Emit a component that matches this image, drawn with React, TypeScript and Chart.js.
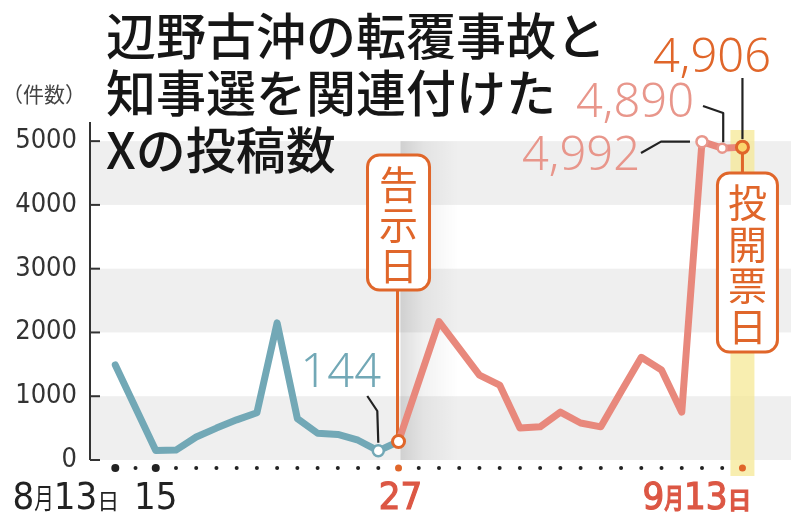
import React, { useEffect, useRef } from 'react';
import { Chart, registerables } from 'chart.js';
Chart.register(...registerables);

// ---- data ----
const dayLabels = [
  '8/13', '8/14', '8/15', '8/16', '8/17', '8/18', '8/19', '8/20', '8/21', '8/22', '8/23', '8/24', '8/25', '8/26',
  '8/27', '8/28', '8/29', '8/30', '8/31', '9/1', '9/2', '9/3', '9/4', '9/5', '9/6', '9/7', '9/8', '9/9', '9/10',
  '9/11', '9/12', '9/13',
];
// before the official announcement (8/13 - 8/27)
const blueValues = [1490, 820, 150, 155, 360, 500, 630, 740, 2150, 650, 420, 400, 310, 144, 290];
// from the announcement day to election day (8/27 - 9/13)
const redValues = [290, 1230, 2170, 1750, 1330, 1175, 500, 520, 750, 580, 520, 1070, 1610, 1410, 750, 4992, 4890, 4906];
const yTicks = [0, 1000, 2000, 3000, 4000, 5000];
const titleLines = ['辺野古沖の転覆事故と', '知事選を関連付けた', 'Xの投稿数'];
const unitLabel = '（件数）';
const announceDay = '8/27';
const electionDay = '9/13';

const BLUE = '#72a8b6';
const RED = '#e8887c';
const ORANGE = '#e0662a';
const PINK = '#e8968b';
const LABEL_RED = '#dc5744';
const NARROW = '"Liberation Sans Narrow", "DejaVu Sans Condensed", sans-serif';
const CJK = '"Noto Sans CJK JP", sans-serif';
const NUM = '"Noto Sans", sans-serif';

const blueData = blueValues.map((v, i) => ({ x: i, y: v }));
const redStart = dayLabels.indexOf(announceDay);
const redData = redValues.map((v, i) => ({ x: redStart + i, y: v }));
const electionIdx = dayLabels.indexOf(electionDay);

type Part = { t: string; font: string; sx?: number };
function drawParts(ctx: CanvasRenderingContext2D, parts: Part[], x: number, y: number, align: 'left' | 'right' | 'center', color: string, stroke = 0) {
  ctx.save();
  ctx.fillStyle = color;
  ctx.strokeStyle = color;
  ctx.lineWidth = stroke;
  ctx.textBaseline = 'alphabetic';
  ctx.textAlign = 'left';
  const widths = parts.map((p) => {
    ctx.font = p.font;
    return ctx.measureText(p.t).width * (p.sx ?? 1);
  });
  const total = widths.reduce((a, b) => a + b, 0);
  let cx = align === 'left' ? x : align === 'right' ? x - total : x - total / 2;
  parts.forEach((p, i) => {
    ctx.font = p.font;
    ctx.save();
    ctx.translate(cx, y);
    ctx.scale(p.sx ?? 1, 1);
    ctx.fillText(p.t, 0, 0);
    if (stroke > 0) ctx.strokeText(p.t, 0, 0);
    ctx.restore();
    cx += widths[i];
  });
  ctx.restore();
}

function roundRect(ctx: CanvasRenderingContext2D, x: number, y: number, w: number, h: number, r: number) {
  ctx.beginPath();
  ctx.moveTo(x + r, y);
  ctx.lineTo(x + w - r, y);
  ctx.arcTo(x + w, y, x + w, y + r, r);
  ctx.lineTo(x + w, y + h - r);
  ctx.arcTo(x + w, y + h, x + w - r, y + h, r);
  ctx.lineTo(x + r, y + h);
  ctx.arcTo(x, y + h, x, y + h - r, r);
  ctx.lineTo(x, y + r);
  ctx.arcTo(x, y, x + r, y, r);
  ctx.closePath();
}

function drawVerticalLabel(ctx: CanvasRenderingContext2D, chars: string, cx: number, top: number, bottom: number, w: number) {
  ctx.save();
  roundRect(ctx, cx - w / 2, top, w, bottom - top, 12);
  ctx.fillStyle = '#ffffff';
  ctx.fill();
  ctx.strokeStyle = ORANGE;
  ctx.lineWidth = 3;
  ctx.stroke();
  ctx.fillStyle = ORANGE;
  ctx.font = `39px ${CJK}`;
  ctx.textAlign = 'center';
  ctx.textBaseline = 'middle';
  const n = chars.length;
  const pitch = (bottom - top - 14) / n;
  for (let i = 0; i < n; i++) {
    ctx.fillText(chars[i], cx, top + 7 + pitch * (i + 0.5) + 2);
  }
  ctx.restore();
}

const decorPlugin = {
  id: 'decor',
  beforeDatasetsDraw(chart: any) {
    const { ctx, chartArea } = chart;
    const xs = chart.scales.x;
    const ys = chart.scales.y;
    ctx.save();
    // alternating bands
    for (let i = 0; i < yTicks.length - 1; i++) {
      if (i % 2 === 0) {
        const t = ys.getPixelForValue(yTicks[i + 1]);
        const b = ys.getPixelForValue(yTicks[i]);
        ctx.fillStyle = '#efefef';
        ctx.fillRect(chartArea.left, t, chartArea.right - chartArea.left, b - t);
      }
    }
    // shadow after announcement day
    const ax = xs.getPixelForValue(redStart);
    const top5 = ys.getPixelForValue(5000);
    const bot0 = ys.getPixelForValue(0);
    const g = ctx.createLinearGradient(ax + 2, 0, ax + 60, 0);
    g.addColorStop(0, 'rgba(0,0,0,0.13)');
    g.addColorStop(0.4, 'rgba(0,0,0,0.05)');
    g.addColorStop(1, 'rgba(0,0,0,0)');
    ctx.fillStyle = g;
    ctx.fillRect(ax + 2, top5, 58, bot0 - top5);
    // election-day highlight
    const ex = xs.getPixelForValue(electionIdx);
    ctx.fillStyle = 'rgba(246,232,150,0.75)';
    ctx.fillRect(ex - 12, chartArea.top + 8, 24, chartArea.bottom - chartArea.top + 8);
    // y axis line and inner ticks
    ctx.strokeStyle = '#333';
    ctx.lineWidth = 2;
    ctx.beginPath();
    ctx.moveTo(ys.right, chartArea.top);
    ctx.lineTo(ys.right, bot0);
    ctx.stroke();
    yTicks.forEach((v) => {
      const py = ys.getPixelForValue(v);
      ctx.beginPath();
      ctx.moveTo(ys.right, py);
      ctx.lineTo(ys.right + 10, py);
      ctx.stroke();
    });
    // announcement stem
    const ay = ys.getPixelForValue(redValues[0]);
    ctx.strokeStyle = ORANGE;
    ctx.lineWidth = 3;
    ctx.beginPath();
    ctx.moveTo(ax - 1, 290);
    ctx.lineTo(ax - 1, ay);
    ctx.stroke();
    // election stem
    const eyv = ys.getPixelForValue(redValues[redValues.length - 1]);
    ctx.beginPath();
    ctx.moveTo(ex, eyv);
    ctx.lineTo(ex, 174);
    ctx.stroke();
    // x axis day dots
    for (let i = 0; i < dayLabels.length; i++) {
      const px = xs.getPixelForValue(i);
      let r = 2;
      let c = '#222';
      if (i === 0 || i === 2) r = 4;
      if (i === redStart || i === electionIdx) {
        r = 3.5;
        c = ORANGE;
      }
      ctx.fillStyle = c;
      ctx.beginPath();
      ctx.arc(px, 468, r, 0, Math.PI * 2);
      ctx.fill();
    }
    ctx.restore();
  },
  afterDatasetsDraw(chart: any) {
    const { ctx } = chart;
    const xs = chart.scales.x;
    const ys = chart.scales.y;
    ctx.save();
    const ax = xs.getPixelForValue(redStart);
    const ex = xs.getPixelForValue(electionIdx);
    drawVerticalLabel(ctx, '告示日', ax, 155, 290, 62);
    drawVerticalLabel(ctx, '投開票日', ex + 5, 173, 352, 60);

    // leader lines
    ctx.strokeStyle = '#222';
    ctx.lineWidth = 2.2;
    ctx.lineJoin = 'round';
    const p144x = xs.getPixelForValue(13);
    const p144y = ys.getPixelForValue(blueValues[13]);
    ctx.beginPath();
    ctx.moveTo(p144x - 11, 396);
    ctx.lineTo(p144x - 1, 411);
    ctx.lineTo(p144x, p144y - 8);
    ctx.stroke();

    const p992x = xs.getPixelForValue(redStart + 15);
    const p992y = ys.getPixelForValue(redValues[15]);
    ctx.beginPath();
    ctx.moveTo(641, 153);
    ctx.lineTo(661, p992y);
    ctx.lineTo(p992x - 12, p992y);
    ctx.stroke();

    const p890x = xs.getPixelForValue(redStart + 16);
    const p890y = ys.getPixelForValue(redValues[16]);
    ctx.beginPath();
    ctx.moveTo(703, 106);
    ctx.lineTo(p890x + 1, 113);
    ctx.lineTo(p890x + 1, p890y - 6);
    ctx.stroke();

    const p906y = ys.getPixelForValue(redValues[17]);
    ctx.beginPath();
    ctx.moveTo(ex, 78);
    ctx.lineTo(ex, p906y - 8);
    ctx.stroke();

    // value labels
    ctx.textBaseline = 'alphabetic';
    ctx.font = `300 47px ${NUM}`;
    ctx.textAlign = 'right';
    ctx.fillStyle = BLUE;
    ctx.fillText(String(blueValues[13]), 381, 387);
    ctx.fillStyle = PINK;
    ctx.fillText(redValues[16].toLocaleString('en-US'), 694, 117);
    ctx.fillText(redValues[15].toLocaleString('en-US'), 640, 170);
    ctx.fillStyle = ORANGE;
    ctx.fillText(redValues[17].toLocaleString('en-US'), 771, 72);
    ctx.restore();
  },
  afterDraw(chart: any) {
    const { ctx } = chart;
    const xs = chart.scales.x;
    ctx.save();
    // title
    ctx.fillStyle = '#161616';
    ctx.font = `500 50px ${CJK}`;
    ctx.textAlign = 'left';
    ctx.textBaseline = 'middle';
    titleLines.forEach((l, i) => ctx.fillText(l, 106, 36 + i * 57));
    // unit
    ctx.fillStyle = '#444';
    ctx.font = `21px ${CJK}`;
    ctx.fillText(unitLabel, 2, 94);
    // x labels
    const digitFont = `38px ${NARROW}`;
    drawParts(ctx, [
      { t: '8', font: digitFont },
      { t: '月', font: `28px ${CJK}`, sx: 0.7 },
      { t: '13', font: digitFont },
      { t: '日', font: `22px ${CJK}` },
    ], xs.getPixelForValue(0) + 4, 509, 'right', '#222');
    drawParts(ctx, [{ t: '15', font: digitFont }], xs.getPixelForValue(2), 509, 'center', '#222');
    drawParts(ctx, [{ t: '27', font: digitFont }], xs.getPixelForValue(redStart) + 2, 509, 'center', LABEL_RED, 1.2);
    drawParts(ctx, [
      { t: '9', font: digitFont },
      { t: '月', font: `500 28px ${CJK}`, sx: 0.7 },
      { t: '13', font: digitFont },
      { t: '日', font: `500 24px ${CJK}` },
    ], xs.getPixelForValue(electionIdx) + 9, 509, 'right', LABEL_RED, 1.2);
    ctx.restore();
  },
};

export default function App() {
  const ref = useRef<HTMLCanvasElement | null>(null);
  useEffect(() => {
    if (!ref.current) return;
    const chart = new Chart(ref.current, {
      type: 'line',
      data: {
        datasets: [
          {
            data: redData,
            borderColor: RED,
            borderWidth: 7,
            borderCapStyle: 'round',
            borderJoinStyle: 'round',
            tension: 0,
            pointRadius: (c: any) => (c.dataIndex === 0 ? 6 : c.dataIndex === 15 ? 5.5 : c.dataIndex === 16 ? 4.5 : c.dataIndex === 17 ? 6 : 0),
            pointBorderWidth: (c: any) => (c.dataIndex === 0 || c.dataIndex === 17 ? 3 : 2.5),
            pointBorderColor: (c: any) => (c.dataIndex === 0 || c.dataIndex === 17 ? ORANGE : PINK),
            pointBackgroundColor: (c: any) => (c.dataIndex === 17 ? '#fbd46c' : '#ffffff'),
          } as any,
          {
            data: blueData,
            borderColor: BLUE,
            borderWidth: 7,
            borderCapStyle: 'round',
            borderJoinStyle: 'round',
            tension: 0,
            pointRadius: (c: any) => (c.dataIndex === 13 ? 5.5 : 0),
            pointBorderWidth: 2.5,
            pointBorderColor: BLUE,
            pointBackgroundColor: '#ffffff',
          } as any,
        ],
      },
      options: {
        animation: false,
        responsive: false,
        maintainAspectRatio: false,
        layout: { padding: { top: 122, bottom: 54, left: 0, right: 3 } },
        plugins: { legend: { display: false }, tooltip: { enabled: false } },
        scales: {
          x: { type: 'linear', min: -1.25, max: 33.4, display: false },
          y: {
            min: 0,
            max: 5300,
            afterBuildTicks: (s: any) => {
              s.ticks = yTicks.map((v) => ({ value: v }));
            },
            afterFit: (s: any) => {
              s.width = 90;
            },
            grid: { display: false, drawTicks: false },
            border: { display: false },
            ticks: {
              padding: 13,
              color: '#333',
              font: { family: NARROW, size: 27 },
              callback: (v: any) => String(v),
            },
          },
        },
      } as any,
      plugins: [decorPlugin],
    });
    return () => chart.destroy();
  }, []);
  return (
    <div style={{ position: 'fixed', left: 0, top: 0, width: 800, height: 514, background: '#fff' }}>
      <canvas ref={ref} width={800} height={514} style={{ width: 800, height: 514, display: 'block' }} />
    </div>
  );
}
